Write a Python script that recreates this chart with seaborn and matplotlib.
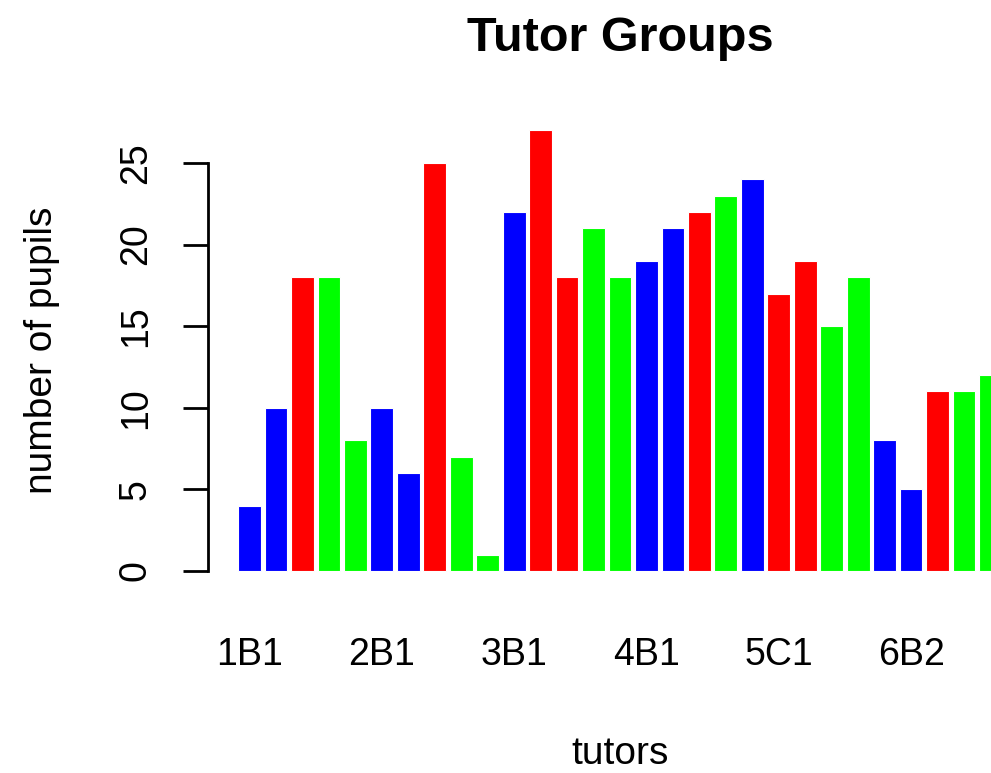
import matplotlib
matplotlib.use("Agg")
import matplotlib.pyplot as plt
import seaborn as sns
import pandas as pd

tutors = ["1B1", "1B2", "1C1", "1R1", "1R2",
          "2B1", "2B2", "2C1", "2R1", "2R2",
          "3B1", "3C1", "3C2", "3R1", "3R2",
          "4B1", "4B2", "4C1", "4R1", "4B3",
          "5C1", "5C2", "5R1", "5R2", "5B1",
          "6B2", "6B3", "6C1", "6R1"]
pupils = [4, 10, 18, 18, 8,
          10, 6, 25, 7, 1,
          22, 27, 18, 21, 18,
          19, 21, 22, 23, 24,
          17, 19, 15, 18, 8,
          5, 11, 11, 12]
bar_colors = ["#0000FF", "#0000FF", "#FF0000", "#00FF00", "#00FF00",
              "#0000FF", "#0000FF", "#FF0000", "#00FF00", "#00FF00",
              "#0000FF", "#FF0000", "#FF0000", "#00FF00", "#00FF00",
              "#0000FF", "#0000FF", "#FF0000", "#00FF00", "#0000FF",
              "#FF0000", "#FF0000", "#00FF00", "#00FF00", "#0000FF",
              "#0000FF", "#FF0000", "#00FF00", "#00FF00"]
shown_labels = ["1B1", "2B1", "3B1", "4B1", "5C1", "6B2"]
yticks = [0, 5, 10, 15, 20, 25]

df = pd.DataFrame({"tutor": tutors, "pupils": pupils})

sns.set_style("white")
plt.rcParams["font.family"] = ["Liberation Sans", "DejaVu Sans"]
plt.rcParams["text.color"] = "black"
plt.rcParams["axes.labelcolor"] = "black"
plt.rcParams["xtick.color"] = "black"
plt.rcParams["ytick.color"] = "black"

W, H = 991, 773
fig = plt.figure(figsize=(W / 100, H / 100), dpi=100)
left, right, top, bottom = 208, 1032, 112.7, 588.6
ax = fig.add_axes([left / W, 1 - bottom / H, (right - left) / W, (bottom - top) / H])

sns.barplot(data=df, x="tutor", y="pupils", hue="tutor", palette=bar_colors,
            width=0.86, legend=False, ax=ax, edgecolor="white", linewidth=0.8,
            saturation=1)

ax.set_xlim(-1.57, 29.57)
ax.set_ylim(-1.08, 28.08)

for s in ["top", "right", "bottom"]:
    ax.spines[s].set_visible(False)
ax.spines["left"].set_bounds(0, 25)
ax.spines["left"].set_linewidth(2.0)
ax.spines["left"].set_color("black")

ax.set_yticks(yticks)
ax.set_yticklabels([str(v) for v in yticks])
ax.tick_params(axis="y", length=18, width=2.0, pad=21, labelsize=27,
               labelrotation=90, left=True, color="black")
for lab in ax.get_yticklabels():
    lab.set_va("center")

ax.set_xticks(range(len(tutors)))
ax.set_xticklabels([t if t in shown_labels else "" for t in tutors])
ax.tick_params(axis="x", length=0, pad=35, labelsize=27)

ax.set_xlabel("tutors", fontsize=28, labelpad=45)
ax.set_ylabel("number of pupils", fontsize=28, labelpad=42)

fig.text(620 / W, 1 - 51 / H, "Tutor Groups", ha="center", va="baseline",
         fontsize=35, fontweight="bold")

fig.savefig("out.png", dpi=100)
